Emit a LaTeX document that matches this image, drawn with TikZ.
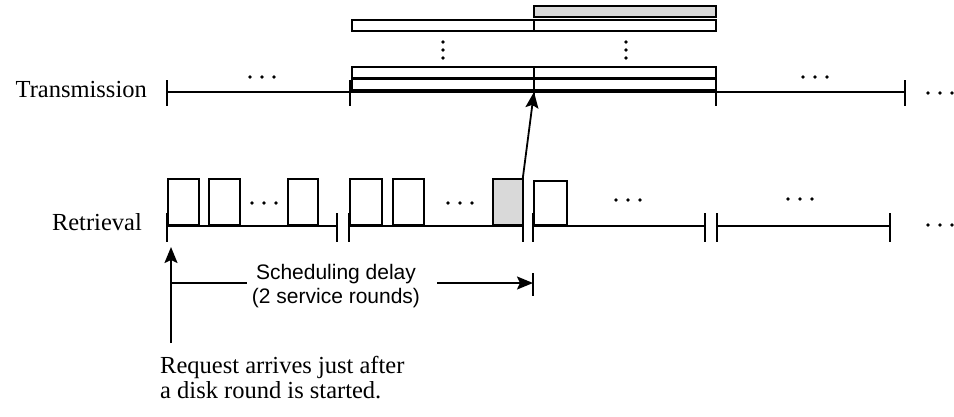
\documentclass[tikz,border=0pt]{standalone}
\usepackage{fontspec}
\setmainfont{Liberation Serif}
\setsansfont{Liberation Sans}
\usetikzlibrary{arrows.meta, positioning}

\begin{document}
\begin{tikzpicture}[
    x=1pt, y=-1pt,
    axis/.style={line width=1.8pt},
    tickmark/.style={line width=2.4pt},
    slot/.style={draw, line width=1.8pt, fill=white, inner sep=0pt,
                 minimum height=46pt, anchor=south west},
    busy/.style={slot, fill=gray!30},
    bar/.style={draw, line width=1.8pt},
    lbl/.style={font=\fontsize{24.5}{24.5}\selectfont, inner sep=0pt},
    sflbl/.style={font=\sffamily\fontsize{21}{24}\selectfont, inner sep=0pt, align=center},
    arr/.style={-{Stealth[length=16pt, width=13pt, inset=3pt]}, line width=1.8pt},
  ]
  \useasboundingbox (0,0) rectangle (954,416);

  % ── TRANSMISSION ──
  \coordinate (t0) at (167,92);
  \coordinate (t1) at (350,92);
  \coordinate (t2) at (534,92);
  \coordinate (t3) at (716,92);
  \coordinate (t4) at (905,92);
  \draw[axis] (t0) -- (t4);
  \foreach \p in {t0,t1,t2,t3,t4}
    \draw[tickmark] ([yshift=12pt]\p) -- ([yshift=-14pt]\p);
  \node[lbl, anchor=base east] (trans) at ([xshift=-20pt, yshift=-5pt]t0) {Transmission};

  % ── BUFFERS ──
  \foreach \a/\b in {352/534, 534/716} {
    \draw[bar, line width=2.8pt] (\a,79) rectangle (\b,90);
    \draw[bar] (\a,67) rectangle (\b,78);
    \draw[bar] (\a,20) rectangle (\b,31);
  }
  \draw[bar, fill=gray!30] (534,6) rectangle (716,17);
  % vertical dots
  \foreach \x in {443,626}
    \foreach \y in {42,50,58}
      \fill (\x,\y) circle (1.8pt);

  % ── RETRIEVAL ──
  \coordinate (r0) at (167,226);
  \foreach \a/\b [count=\i] in {167/337, 349/523, 533/705, 717/890} {
    \draw[axis] (\a,226) -- (\b,226);
    \draw[tickmark] (\a,213) -- (\a,242);
    \draw[tickmark] (\b,213) -- (\b,242);
  }
  \foreach \x/\w [count=\i] in {167/31, 208/31, 287/30, 349/32, 392/31}
    \node[slot, minimum width=\w pt] (s\i) at (\x,226) {};
  \node[busy, minimum width=30pt] (g) at (492,226) {};
  \node[slot, minimum width=33pt, minimum height=44pt] (s6) at (533,226) {};
  \node[lbl, anchor=base east] (retr) at ([xshift=-25pt, yshift=-4pt]r0) {Retrieval};

  % horizontal dots
  \foreach \x/\y in {262/77, 815/77, 940/93, 264/203, 460/203, 628/200, 800/199, 940/225}
    \foreach \d in {-12,0,12}
      \fill (\x+\d,\y) circle (1.8pt);

  \draw[arr] ([xshift=-1pt]g.north east) -- (t2);

  % ── DELAY ──
  \coordinate (req) at (171,343);
  \coordinate (req top) at (171,247);
  \coordinate (d0) at (171,283);
  \coordinate (d1) at (533,283);
  \draw[arr] (req) -- (req top);
  \node[sflbl] (delay) at (336,286) {Scheduling delay\\(2 service rounds)};
  \draw[axis] (d0) -- ([xshift=-5pt]delay.west |- d0);
  \draw[arr] ([xshift=17pt]delay.east |- d0) -- (d1);
  \draw[tickmark] ([yshift=10pt]d1) -- ([yshift=-13pt]d1);

  \node[lbl, align=left, anchor=base west] (note) at (160,398)
    {Request arrives just after\\a disk round is started.};
\end{tikzpicture}
\end{document}
